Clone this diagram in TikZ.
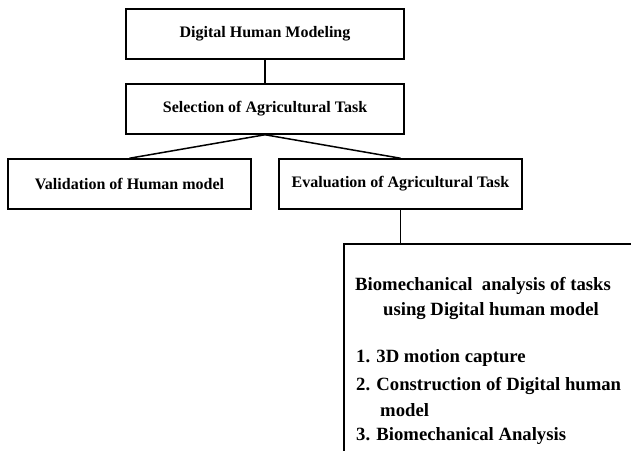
\documentclass[tikz,border=0pt]{standalone}
\usepackage{fontspec}
\setmainfont{Liberation Serif}
\usetikzlibrary{positioning}

\begin{document}
\begin{tikzpicture}[x=1pt, y=-1pt,
  flowbox/.style={draw, line width=1.5pt, minimum width=278pt, minimum height=50pt, inner sep=2pt, font=\fontsize{16}{19}\selectfont\bfseries},
  sidebox/.style={flowbox, minimum width=243pt},
  listtext/.style={anchor=base west, inner sep=0pt, font=\fontsize{18.7}{22}\selectfont\bfseries},
  link/.style={line width=1.5pt}
]
  \useasboundingbox (0,0) rectangle (631,450);
  \clip (0,0) rectangle (631,450);
  % main chain
  \node[flowbox] (dhm) at (265,34) {Digital Human Modeling};
  \node[flowbox] (sel) at (265,109) {Selection of Agricultural Task};
  \node[sidebox] (val) at (129.5,184) {Validation of Human model};
  \node[sidebox] (eval) at (400.5,184) {Evaluation of Agricultural Task};
  % analysis box (runs off the page)
  \node[draw, line width=1.5pt, anchor=north west, minimum width=330pt, minimum height=260pt] (bio) at (343,243) {};
  \node[listtext] (biot1) at (355,290) {Biomechanical\ \ analysis of tasks};
  \node[listtext] (biot2) at (383,315) {using Digital human model};
  \node[listtext] (item1) at (356,362) {1. 3D motion capture};
  \node[listtext] (item2) at (356,390) {2. Construction of Digital human};
  \node[listtext] (item2b) at (380,416) {model};
  \node[listtext] (item3) at (356,440) {3. Biomechanical Analysis};
  % connectors
  \draw[link] (dhm) -- (sel);
  \draw[link] (sel.south) -- (val.north);
  \draw[link] (sel.south) -- (eval.north);
  \draw[link] (eval.south) -- (eval.south |- bio.north);
\end{tikzpicture}
\end{document}
